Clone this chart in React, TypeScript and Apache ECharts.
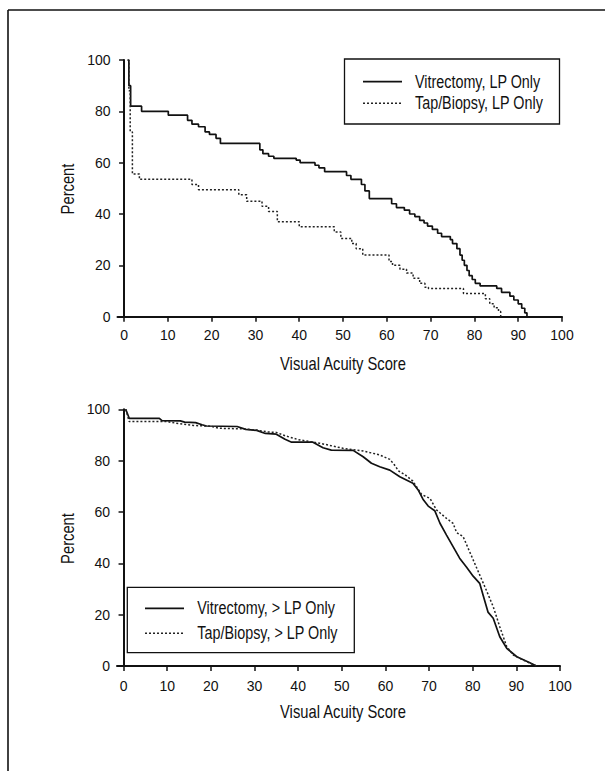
import React, { useEffect, useRef } from "react";
import * as echarts from "echarts";

// ---------- data ----------
const xTicks = [0, 10, 20, 30, 40, 50, 60, 70, 80, 90, 100];
const xTitle = "Visual Acuity Score";
const yTitle = "Percent";
const seriesNames = [
  "Vitrectomy, LP Only",
  "Tap/Biopsy, LP Only",
  "Vitrectomy, > LP Only",
  "Tap/Biopsy, > LP Only",
];

// Top panel (step curves): [visual acuity score, percent after the step]
const vitLP: number[][] = [
  [0.8, 100], [1.1, 90], [1.5, 82], [4, 80], [10.1, 78.5], [14.5, 76.5], [15.5, 75],
  [17, 74], [18.5, 72], [19.5, 71], [21, 69.5], [22, 67.5], [31, 65], [31.7, 63.5],
  [33, 62.5], [34.2, 61.7], [39.3, 61], [40.2, 60], [43.6, 59], [44.5, 58], [45.8, 56.5],
  [50.8, 55], [51.8, 53.5], [54.2, 51.5], [55, 49], [56, 46], [61.1, 44], [62.2, 42.5],
  [64, 41.5], [65.2, 40], [66.4, 39], [67.5, 37.5], [68.5, 36.5], [69.3, 35.3], [70.4, 34],
  [71.6, 32.5], [72.5, 31.2], [74.5, 30], [75, 28.5], [76, 26.5], [76.7, 24], [77.2, 22],
  [77.7, 20], [78.3, 18], [78.8, 16], [79.5, 14.5], [80.2, 13], [81.3, 12], [85.1, 11],
  [86.2, 9.5], [88.1, 8], [89, 6.5], [90, 5], [90.8, 3.3], [91.5, 1.5], [92, 0],
];
const tapLP: number[][] = [
  [0.8, 100], [1.1, 88], [1.4, 72], [1.9, 55.6], [3.5, 53.5], [15.5, 51.5], [17, 49.5],
  [26.2, 47.5], [28, 45], [31.5, 43], [33, 41], [35, 37], [40, 35], [48, 33], [49.5, 30.5],
  [52, 28.5], [53, 26.5], [54.5, 24], [60.5, 21.5], [61.3, 20], [63, 18.5], [64.5, 17],
  [66, 15], [67.5, 13], [68.7, 11.5], [69.5, 11], [77.5, 9], [82.5, 7], [83.5, 5],
  [84.5, 3.5], [85.5, 2], [86, 0],
];

// Bottom panel
const vitGtLP: number[][] = [
  [0.5, 100], [1.3, 96.5], [8.2, 96.5], [8.8, 95.6], [13, 95.5], [14, 95], [16.5, 94.8],
  [18, 94], [19, 93.5], [26, 93.3], [28, 92.2], [30.5, 91.8], [32.5, 90.6], [35, 90.3],
  [37, 88.3], [38.5, 87.2], [43.4, 87.2], [45.7, 85], [47.6, 84.1], [52.6, 84], [54.9, 81.5],
  [56.8, 79], [58.7, 77.6], [61, 76.3], [63.3, 73.7], [66.3, 71.2], [67.5, 68.6], [68.6, 65],
  [69.8, 62.3], [71.3, 60.5], [72.5, 55.6], [74, 51], [75.5, 46.5], [77, 42], [78.6, 38.5],
  [80.1, 35], [81.6, 32.2], [82.4, 27.5], [83.5, 21], [84.7, 18.6], [86.2, 11.4], [87.8, 6.9],
  [90.1, 3.6], [93.1, 1.3], [94.6, 0],
];
const tapGtLP: number[][] = [
  [0.5, 100], [1.3, 95.2], [10, 95.2], [12, 94.6], [16, 93.7], [20, 93.4], [22, 92.6],
  [27, 92.4], [30, 92], [33, 91.2], [35, 91], [37, 89.7], [40, 88.2], [44.9, 86.8],
  [50.3, 84.8], [54.9, 83.8], [58.7, 82.2], [61, 80.5], [62, 78.5], [63, 76], [64.5, 74.5],
  [66.3, 72], [68.3, 66.8], [70.2, 65.3], [71.7, 60.8], [74, 57.5], [75.5, 55.6], [76.3, 52],
  [77.8, 50.4], [79.3, 44.5], [81.6, 35.5], [83.1, 29.6], [84.7, 23.1], [86.2, 15.3],
  [87.8, 7.5], [89.3, 4.3], [91.6, 2.3], [93.9, 0.5], [94.6, 0],
];

const FONT = "'Liberation Sans', Arial, sans-serif";
const NARROW = 0.82;

export default function App() {
  const ref = useRef<HTMLDivElement>(null);
  useEffect(() => {
    if (!ref.current) return;
    const chart = echarts.init(ref.current, null, { renderer: "svg" });

    const xAxisBase = (gridIndex: number, margin: number) => ({
      type: "value",
      gridIndex,
      min: -1.5,
      max: 100,
      axisLine: { show: true, lineStyle: { color: "#111", width: 2 } },
      axisTick: { show: true, length: 5, customValues: xTicks, lineStyle: { color: "#111", width: 1.5 } },
      axisLabel: { customValues: xTicks, fontFamily: FONT, fontSize: 14, color: "#111", margin },
      splitLine: { show: false },
    });
    const yAxisBase = (gridIndex: number) => ({
      type: "value",
      gridIndex,
      min: 0,
      max: 100,
      interval: 20,
      axisLine: { show: true, lineStyle: { color: "#111", width: 2 } },
      axisTick: { show: true, length: 5, lineStyle: { color: "#111", width: 1.5 } },
      axisLabel: { fontFamily: FONT, fontSize: 14, color: "#111", margin: 7 },
      splitLine: { show: false },
    });

    const solid = { color: "#111", width: 1.7, type: "solid" };
    const dotted = { color: "#222", width: 1.5, type: [2, 2] };

    const narrowText = (text: string, x: number, y: number, size: number, align: string, rotation = 0) => ({
      type: "text",
      x,
      y,
      rotation,
      scaleX: NARROW,
      style: { text, font: `${size}px ${FONT}`, fill: "#111", verticalAlign: "middle", align },
    });

    const legendGroup = (x: number, y: number, w: number, h: number, l1: number, l2: number, lx0: number, lx1: number, tx: number, names: string[]) => ({
      type: "group",
      children: [
        { type: "rect", shape: { x, y, width: w, height: h }, style: { fill: "#fff", stroke: "#111", lineWidth: 1.3 } },
        { type: "line", shape: { x1: lx0, y1: l1, x2: lx1, y2: l1 }, style: { stroke: "#111", lineWidth: 1.7 } },
        { type: "line", shape: { x1: lx0, y1: l2, x2: lx1, y2: l2 }, style: { stroke: "#222", lineWidth: 1.5, lineDash: [2, 2] } },
        narrowText(names[0], tx, l1, 17.5, "left"),
        narrowText(names[1], tx, l2, 17.5, "left"),
      ],
    });

    chart.setOption({
      animation: false,
      backgroundColor: "#fff",
      grid: [
        { left: 117.5, top: 60, width: 444.5, height: 256.7 },
        { left: 117, top: 409.3, width: 443, height: 256.7 },
      ],
      xAxis: [xAxisBase(0, 11), xAxisBase(1, 13)],
      yAxis: [yAxisBase(0), yAxisBase(1)],
      series: [
        { name: seriesNames[0], type: "line", xAxisIndex: 0, yAxisIndex: 0, step: "end", data: vitLP, symbol: "none", lineStyle: solid },
        { name: seriesNames[1], type: "line", xAxisIndex: 0, yAxisIndex: 0, step: "end", data: tapLP, symbol: "none", lineStyle: dotted },
        { name: seriesNames[2], type: "line", xAxisIndex: 1, yAxisIndex: 1, data: vitGtLP, symbol: "none", lineStyle: solid },
        { name: seriesNames[3], type: "line", xAxisIndex: 1, yAxisIndex: 1, data: tapGtLP, symbol: "none", lineStyle: dotted },
      ],
      graphic: [
        { type: "line", shape: { x1: 8, y1: 10, x2: 605, y2: 10 }, style: { stroke: "#111", lineWidth: 1.6 } },
        { type: "line", shape: { x1: 8, y1: 10, x2: 8, y2: 771 }, style: { stroke: "#111", lineWidth: 1.6 } },
        narrowText(xTitle, 343, 363.5, 18, "center"),
        narrowText(xTitle, 343, 711.5, 18, "center"),
        narrowText(yTitle, 67.5, 189, 18, "center", Math.PI / 2),
        narrowText(yTitle, 67.5, 538.5, 18, "center", Math.PI / 2),
        legendGroup(344.5, 59, 215, 65, 81.7, 103.3, 363, 402, 415, [seriesNames[0], seriesNames[1]]),
        legendGroup(127.3, 587.3, 227, 65.4, 608.3, 633.3, 145, 184, 197.3, [seriesNames[2], seriesNames[3]]),
      ],
    });
    return () => chart.dispose();
  }, []);
  return <div ref={ref} style={{ position: "absolute", left: 0, top: 0, width: 605, height: 771 }} />;
}
